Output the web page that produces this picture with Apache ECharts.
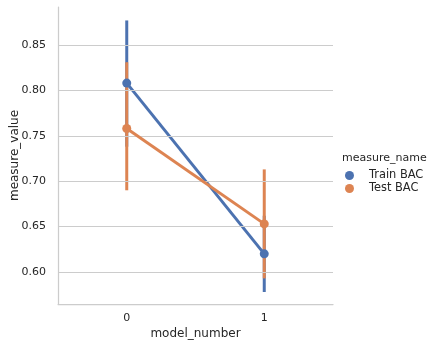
<!DOCTYPE html>
<html>
<head>
<meta charset="utf-8">
<script src="https://cdn.jsdelivr.net/npm/echarts@6/dist/echarts.min.js"></script>
<style>
  html, body { margin: 0; padding: 0; background: #ffffff; }
  #chart { width: 433px; height: 348px; }
</style>
</head>
<body>
<div id="chart"></div>
<script>
// Mean balanced accuracy per model with 95% confidence intervals
const categories = ['0', '1'];
const trainMean = [0.808, 0.620];
const trainLow = [0.738, 0.578];
const trainHigh = [0.877, 0.662];
const testMean = [0.758, 0.653];
const testLow = [0.690, 0.593];
const testHigh = [0.831, 0.713];
const yTicks = [0.60, 0.65, 0.70, 0.75, 0.80, 0.85];

const BLUE = '#4c72b0';
const ORANGE = '#dd8452';
const TEXT = '#262626';
const FONT = 'DejaVu Sans';

function intervals(low, high) {
  return low.map((lo, i) => [i, lo, high[i]]);
}

function errorBars(name, low, high, color, z) {
  return {
    type: 'custom',
    name: name,
    z: z,
    silent: true,
    data: intervals(low, high),
    renderItem: function (params, api) {
      const idx = api.value(0);
      const a = api.coord([idx, api.value(1)]);
      const b = api.coord([idx, api.value(2)]);
      return {
        type: 'line',
        shape: { x1: a[0], y1: a[1], x2: b[0], y2: b[1] },
        style: { stroke: color, lineWidth: 3, lineCap: 'butt' }
      };
    }
  };
}

function meanLine(name, values, color, z) {
  return {
    type: 'line',
    name: name,
    z: z,
    data: values,
    symbol: 'circle',
    symbolSize: 9,
    showSymbol: true,
    itemStyle: { color: color, borderWidth: 0 },
    lineStyle: { color: color, width: 3 }
  };
}

const chart = echarts.init(document.getElementById('chart'), null, { renderer: 'canvas' });
chart.setOption({
  animation: false,
  backgroundColor: '#ffffff',
  textStyle: { fontFamily: FONT },
  grid: { left: 58, right: 100, top: 7, bottom: 44, containLabel: false, outerBoundsMode: 'none' },
  title: {
    text: 'measure_name',
    left: 342,
    top: 153,
    padding: 0,
    textStyle: { fontFamily: FONT, fontSize: 11, fontWeight: 'normal', color: TEXT }
  },
  legend: {
    data: ['Train BAC', 'Test BAC'],
    orient: 'vertical',
    left: 345,
    top: 169,
    padding: 0,
    icon: 'circle',
    itemWidth: 9,
    itemHeight: 9,
    itemGap: 0,
    textStyle: { fontFamily: FONT, fontSize: 11.4, color: TEXT, lineHeight: 13, padding: [0, 0, 0, 10] }
  },
  xAxis: {
    type: 'category',
    data: categories,
    boundaryGap: true,
    name: 'model_number',
    nameLocation: 'middle',
    nameGap: 24,
    nameMoveOverlap: false,
    nameTextStyle: { fontFamily: FONT, fontSize: 12, color: TEXT },
    axisLine: { show: true, lineStyle: { color: '#cccccc', width: 1.25 } },
    axisTick: { show: false },
    splitLine: { show: false },
    axisLabel: { fontFamily: FONT, fontSize: 11, color: TEXT, margin: 9 }
  },
  yAxis: {
    type: 'value',
    min: 0.5648,
    max: 0.8918,
    name: 'measure_value',
    nameLocation: 'middle',
    nameGap: 37,
    nameMoveOverlap: false,
    nameTextStyle: { fontFamily: FONT, fontSize: 12, color: TEXT },
    axisLine: { show: true, lineStyle: { color: '#cccccc', width: 1.25 } },
    axisTick: { show: false, customValues: yTicks },
    splitLine: { show: false },
    axisLabel: {
      fontFamily: FONT, fontSize: 11, color: TEXT, margin: 12,
      customValues: yTicks,
      formatter: v => v.toFixed(2)
    }
  },
  series: [
    // horizontal grid lines at the labelled ticks
    {
      type: 'line',
      name: 'grid',
      data: [],
      silent: true,
      z: 0,
      markLine: {
        silent: true,
        symbol: ['none', 'none'],
        label: { show: false },
        lineStyle: { color: '#cccccc', width: 1, type: 'solid' },
        data: yTicks.map(v => ({ yAxis: v }))
      }
    },
    errorBars('Train CI', trainLow, trainHigh, BLUE, 2),
    errorBars('Test CI', testLow, testHigh, ORANGE, 3),
    meanLine('Train BAC', trainMean, BLUE, 4),
    meanLine('Test BAC', testMean, ORANGE, 5)
  ]
});
</script>
</body>
</html>
